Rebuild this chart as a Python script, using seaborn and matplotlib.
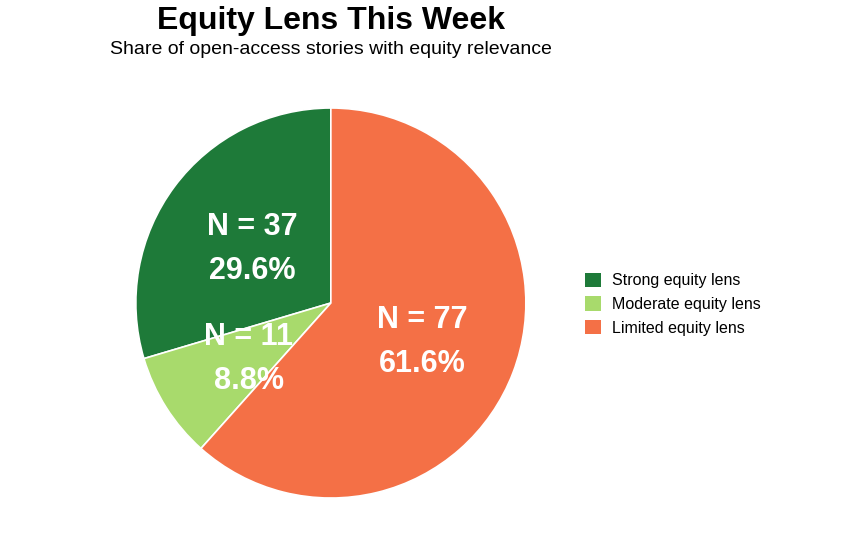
import matplotlib
matplotlib.use("Agg")
import matplotlib.pyplot as plt
import matplotlib.transforms as mtransforms
import seaborn as sns
from matplotlib.patches import Patch

sns.set_style("white")
plt.rcParams["font.family"] = ["Liberation Sans", "DejaVu Sans"]
plt.rcParams["text.color"] = "black"

categories = ["Strong equity lens", "Moderate equity lens", "Limited equity lens"]
counts = [37, 11, 77]
colors = ["#1e7a39", "#a8da6c", "#f47046"]

total = sum(counts)
labels = [f"N = {n}\n{n / total * 100:.1f}%" for n in counts]

fig = plt.figure(figsize=(8.49, 5.48), dpi=100)
ax = fig.add_axes([0.160, 0.0912, 0.4594, 0.7117])
wedges, texts = ax.pie(counts, colors=colors, startangle=90, counterclock=True,
                       labels=labels, labeldistance=0.5,
                       wedgeprops=dict(edgecolor="white", linewidth=1.2),
                       textprops=dict(color="white", fontsize=22, fontweight="bold",
                                      ha="center", va="center", linespacing=1.6))
# nudge labels a few pixels down
shift = mtransforms.ScaledTranslation(0, -0.04, fig.dpi_scale_trans)
for t in texts:
    t.set_transform(t.get_transform() + shift)
ax.set_xlim(-1, 1)
ax.set_ylim(-1, 1)
ax.set_aspect("equal")

fig.text(0.39, 0.962, "Equity Lens This Week", ha="center", va="center",
         fontsize=23, fontweight="bold")
fig.text(0.39, 0.91, "Share of open-access stories with equity relevance",
         ha="center", va="center", fontsize=14)

handles = [Patch(facecolor=c, edgecolor="none") for c in colors]
fig.legend(handles, categories, loc="center left", bbox_to_anchor=(0.672, 0.445),
           frameon=False, fontsize=11.5, handlelength=1.0, handleheight=1.0,
           handletextpad=0.7, labelspacing=0.5)

fig.savefig("out.png", dpi=100, facecolor="white")
